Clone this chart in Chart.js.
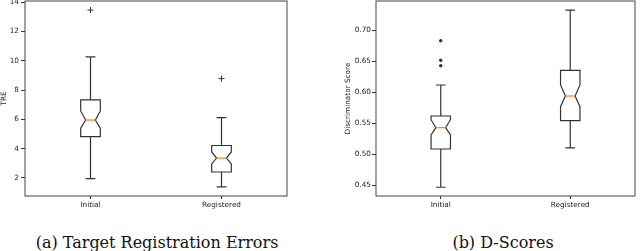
<!DOCTYPE html>
<html>
<head>
<meta charset="utf-8">
<script src="https://cdn.jsdelivr.net/npm/chart.js@4"></script>
<style>
  body { margin: 0; width: 640px; height: 251px; overflow: hidden; background: #fff; position: relative; }
  .panel { position: absolute; top: -8px; width: 320px; height: 220px; }
  .caption { position: absolute; top: 233px; line-height: 20px; font-family: "DejaVu Serif", serif; font-size: 16px; color: #111; white-space: nowrap; transform: translateX(-50%); }
</style>
</head>
<body>
<div class="panel" style="left:0"><canvas id="chartA"></canvas></div>
<div class="panel" style="left:320px"><canvas id="chartB"></canvas></div>
<div class="caption" style="left:157px">(a) Target Registration Errors</div>
<div class="caption" style="left:503px">(b) D-Scores</div>
<script>
const categories = ['Initial', 'Registered'];

// (a) TRE
const treLow = [1.96, 1.39];
const treQ1 = [4.82, 2.41];
const treNotchLo = [5.39, 2.96];
const treMedian = [5.96, 3.36];
const treNotchHi = [6.58, 3.78];
const treQ3 = [7.33, 4.22];
const treHigh = [10.28, 6.13];
const treFliers = [[13.47], [8.79]];
const treTicks = ['2', '4', '6', '8', '10', '12', '14'];

// (b) discriminator score
const dLow = [0.4468, 0.5102];
const dQ1 = [0.5085, 0.5542];
const dNotchLo = [0.5311, 0.5768];
const dMedian = [0.5429, 0.594];
const dNotchHi = [0.5558, 0.6118];
const dQ3 = [0.5618, 0.6355];
const dHigh = [0.6118, 0.7327];
const dFliers = [[0.6832, 0.6516, 0.6429], []];
const dTicks = ['0.45', '0.50', '0.55', '0.60', '0.65', '0.70'];

const ink = '#333';
const tickFont = { family: 'DejaVu Sans', size: 7.3 };

const boxPlugin = (stats) => ({
  id: 'notchedBox',
  afterDatasetsDraw(chart) {
    const {ctx, chartArea, scales: {x, y}} = chart;
    const step = x.getPixelForValue(1) - x.getPixelForValue(0);
    const hw = step * 0.075;
    ctx.save();
    ctx.strokeStyle = ink;
    ctx.lineWidth = 1.2;
    stats.low.forEach((_, i) => {
      const cx = x.getPixelForValue(i);
      const l = cx - hw, r = cx + hw, il = cx - hw / 2, ir = cx + hw / 2;
      const py = v => y.getPixelForValue(v);
      // box with notch
      ctx.beginPath();
      ctx.moveTo(l, py(stats.q1[i]));
      ctx.lineTo(l, py(stats.notchLo[i]));
      ctx.lineTo(il, py(stats.median[i]));
      ctx.lineTo(l, py(stats.notchHi[i]));
      ctx.lineTo(l, py(stats.q3[i]));
      ctx.lineTo(r, py(stats.q3[i]));
      ctx.lineTo(r, py(stats.notchHi[i]));
      ctx.lineTo(ir, py(stats.median[i]));
      ctx.lineTo(r, py(stats.notchLo[i]));
      ctx.lineTo(r, py(stats.q1[i]));
      ctx.closePath();
      ctx.stroke();
      // whiskers + caps
      ctx.beginPath();
      ctx.moveTo(cx, py(stats.q3[i])); ctx.lineTo(cx, py(stats.high[i]));
      ctx.moveTo(cx, py(stats.q1[i])); ctx.lineTo(cx, py(stats.low[i]));
      ctx.moveTo(il, py(stats.high[i])); ctx.lineTo(ir, py(stats.high[i]));
      ctx.moveTo(il, py(stats.low[i])); ctx.lineTo(ir, py(stats.low[i]));
      ctx.stroke();
      // median
      ctx.strokeStyle = '#ff7f0e';
      ctx.beginPath();
      ctx.moveTo(il, py(stats.median[i])); ctx.lineTo(ir, py(stats.median[i]));
      ctx.stroke();
      ctx.strokeStyle = ink;
    });
    // frame
    ctx.lineWidth = 1;
    ctx.strokeStyle = '#444';
    ctx.strokeRect(chartArea.left, chartArea.top, chartArea.right - chartArea.left, chartArea.bottom - chartArea.top);
    ctx.restore();
  }
});

const makeChart = (el, o) => new Chart(document.getElementById(el), {
  type: 'scatter',
  data: {
    labels: categories,
    datasets: [{
      data: o.fliers.flatMap((vals, i) => vals.map(v => ({x: categories[i], y: v}))),
      pointStyle: o.pointStyle,
      radius: o.radius,
      borderColor: ink,
      backgroundColor: ink,
      borderWidth: 1
    }]
  },
  options: {
    responsive: true,
    maintainAspectRatio: false,
    animation: false,
    layout: { padding: o.padding },
    plugins: { legend: { display: false }, tooltip: { enabled: false } },
    scales: {
      x: {
        type: 'category',
        labels: categories,
        offset: true,
        grid: { display: true, drawOnChartArea: false, drawTicks: true, tickLength: 3, color: ink, offset: false },
        border: { display: false },
        ticks: { font: tickFont, color: '#222', padding: 2, maxRotation: 0 },
        afterFit: s => { s.height = 16; }
      },
      y: {
        min: o.min,
        max: o.max,
        grid: { display: true, drawOnChartArea: false, drawTicks: true, tickLength: 4, color: ink },
        border: { display: false },
        ticks: { font: tickFont, color: '#222', padding: o.tickPad, callback: (v, i, t) => o.ticks[i] },
        afterBuildTicks: s => { s.ticks = o.ticks.map(t => ({value: parseFloat(t)})); },
        title: { display: true, text: o.title, font: tickFont, color: '#222', padding: { top: o.titlePad, bottom: 0 } },
        afterFit: s => { s.width = o.axisWidth; }
      }
    }
  },
  plugins: [boxPlugin(o.stats)]
});

makeChart('chartA', {
  stats: { low: treLow, q1: treQ1, notchLo: treNotchLo, median: treMedian, notchHi: treNotchHi, q3: treQ3, high: treHigh },
  fliers: treFliers, pointStyle: 'cross', radius: 3,
  min: 0.77, max: 14.09, ticks: treTicks, title: 'TRE',
  padding: { top: 9, right: 33, left: 0, bottom: 0 }, axisWidth: 25, tickPad: 2, titlePad: 0
});

makeChart('chartB', {
  stats: { low: dLow, q1: dQ1, notchLo: dNotchLo, median: dMedian, notchHi: dNotchHi, q3: dQ3, high: dHigh },
  fliers: dFliers, pointStyle: 'circle', radius: 1.3,
  min: 0.4327, max: 0.7473, ticks: dTicks, title: 'Discriminator Score',
  padding: { top: 9, right: 1.3, left: 20, bottom: 0 }, axisWidth: 36, tickPad: 1, titlePad: 4
});
</script>
</body>
</html>
